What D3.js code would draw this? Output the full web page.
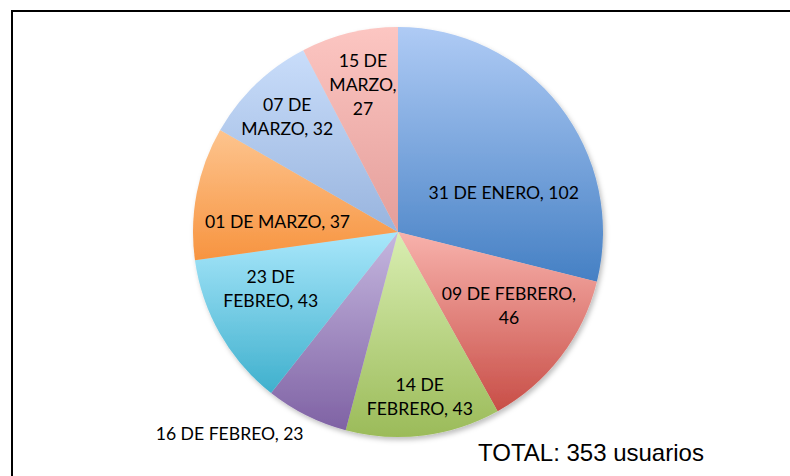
<!DOCTYPE html>
<html>
<head>
<meta charset="utf-8">
<script src="https://cdn.jsdelivr.net/npm/d3@7"></script>
<style>
  body { margin: 0; background: #fff; }
  .lbl { font-family: Lato, "Open Sans", sans-serif; font-size: 17.6px; fill: #000; }
  .total { font-family: "Liberation Sans", Arial, sans-serif; font-size: 24px; fill: #000; }
</style>
</head>
<body>
<div id="chart"></div>
<script>
// data
var categories = ["31 DE ENERO", "09 DE FEBRERO", "14 DE FEBRERO", "16 DE FEBREO",
                  "23 DE FEBREO", "01 DE MARZO", "07 DE MARZO", "15 DE MARZO"];
var usuarios = [102, 46, 43, 23, 43, 37, 32, 27];
var totalText = "TOTAL: " + d3.sum(usuarios) + " usuarios";

// office-ish gradient colours, light (top) -> dark (bottom)
var colorTop    = ["#afcbf5", "#f8b2ac", "#d9eeb2", "#c5b7df", "#a9e7fb", "#fdc48e", "#c9ddfa", "#fcc6c2"];
var colorBottom = ["#4580c4", "#c84e47", "#9bbb59", "#7f62a4", "#3fb0cd", "#f79440", "#98b4de", "#e49e9a"];

// label placement (Excel "best fit"): angle nudge in deg, radius as fraction, words per line
var labelLayout = [
  { da: 17.6, r: 0.55, lines: [4] },
  { da: -3.8, r: 0.65, lines: [3, 1] },
  { da: -0.4, r: 0.81, lines: [2, 2] },
  { da: 13.4, r: 1.28, lines: [4] },
  { da: 5.8,  r: 0.68, lines: [2, 2] },
  { da: -6,   r: 0.59, lines: [4] },
  { da: 0,    r: 0.78, lines: [2, 2] },
  { da: 0.4,  r: 0.74, lines: [2, 1, 1] }
];

var width = 790, height = 476;
var cx = 398, cy = 232, radius = 205;
var lineH = 24;

var svg = d3.select("#chart").append("svg")
  .attr("width", width)
  .attr("height", height);

var defs = svg.append("defs");

var shadow = defs.append("filter").attr("id", "shadow")
  .attr("x", "-10%").attr("y", "-10%").attr("width", "120%").attr("height", "120%");
shadow.append("feDropShadow")
  .attr("dx", 2).attr("dy", 3).attr("stdDeviation", 2.5)
  .attr("flood-color", "#000").attr("flood-opacity", 0.25);

categories.forEach(function(c, i) {
  var g = defs.append("linearGradient").attr("id", "grad" + i)
    .attr("x1", 0).attr("y1", 0).attr("x2", 0).attr("y2", 1);
  g.append("stop").attr("offset", "0%").attr("stop-color", colorTop[i]);
  g.append("stop").attr("offset", "100%").attr("stop-color", colorBottom[i]);
});

// frame (only top and left edges visible)
svg.append("path")
  .attr("d", "M12," + height + "V11H" + width)
  .attr("fill", "none")
  .attr("stroke", "#000")
  .attr("stroke-width", 2);

var pie = d3.pie().sort(null).value(function(d) { return d; });
var arcs = pie(usuarios);

var arc = d3.arc().innerRadius(0).outerRadius(radius);

var chart = svg.append("g")
  .attr("transform", "translate(" + cx + "," + cy + ")");

chart.append("g")
  .attr("filter", "url(#shadow)")
  .selectAll("path")
  .data(arcs)
  .enter().append("path")
  .attr("d", arc)
  .attr("fill", function(d, i) { return "url(#grad" + i + ")"; });

var labels = chart.append("g").selectAll("text")
  .data(arcs)
  .enter().append("text")
  .attr("class", "lbl")
  .attr("text-anchor", "middle")
  .each(function(d, i) {
    var lay = labelLayout[i];
    var a = (d.startAngle + d.endAngle) / 2 + lay.da * Math.PI / 180;
    var rr = lay.r * radius;
    var x = Math.sin(a) * rr, y = -Math.cos(a) * rr;
    var words = (categories[i] + ", " + usuarios[i]).split(" ");
    var rows = [], k = 0;
    lay.lines.forEach(function(n) { rows.push(words.slice(k, k + n).join(" ")); k += n; });
    var t = d3.select(this);
    rows.forEach(function(row, j) {
      t.append("tspan")
        .attr("x", x)
        .attr("y", y + (j - (rows.length - 1) / 2) * lineH + 6.5)
        .text(row);
    });
  });

svg.append("text")
  .attr("class", "total")
  .attr("x", 478)
  .attr("y", 461)
  .text(totalText);
</script>
</body>
</html>
